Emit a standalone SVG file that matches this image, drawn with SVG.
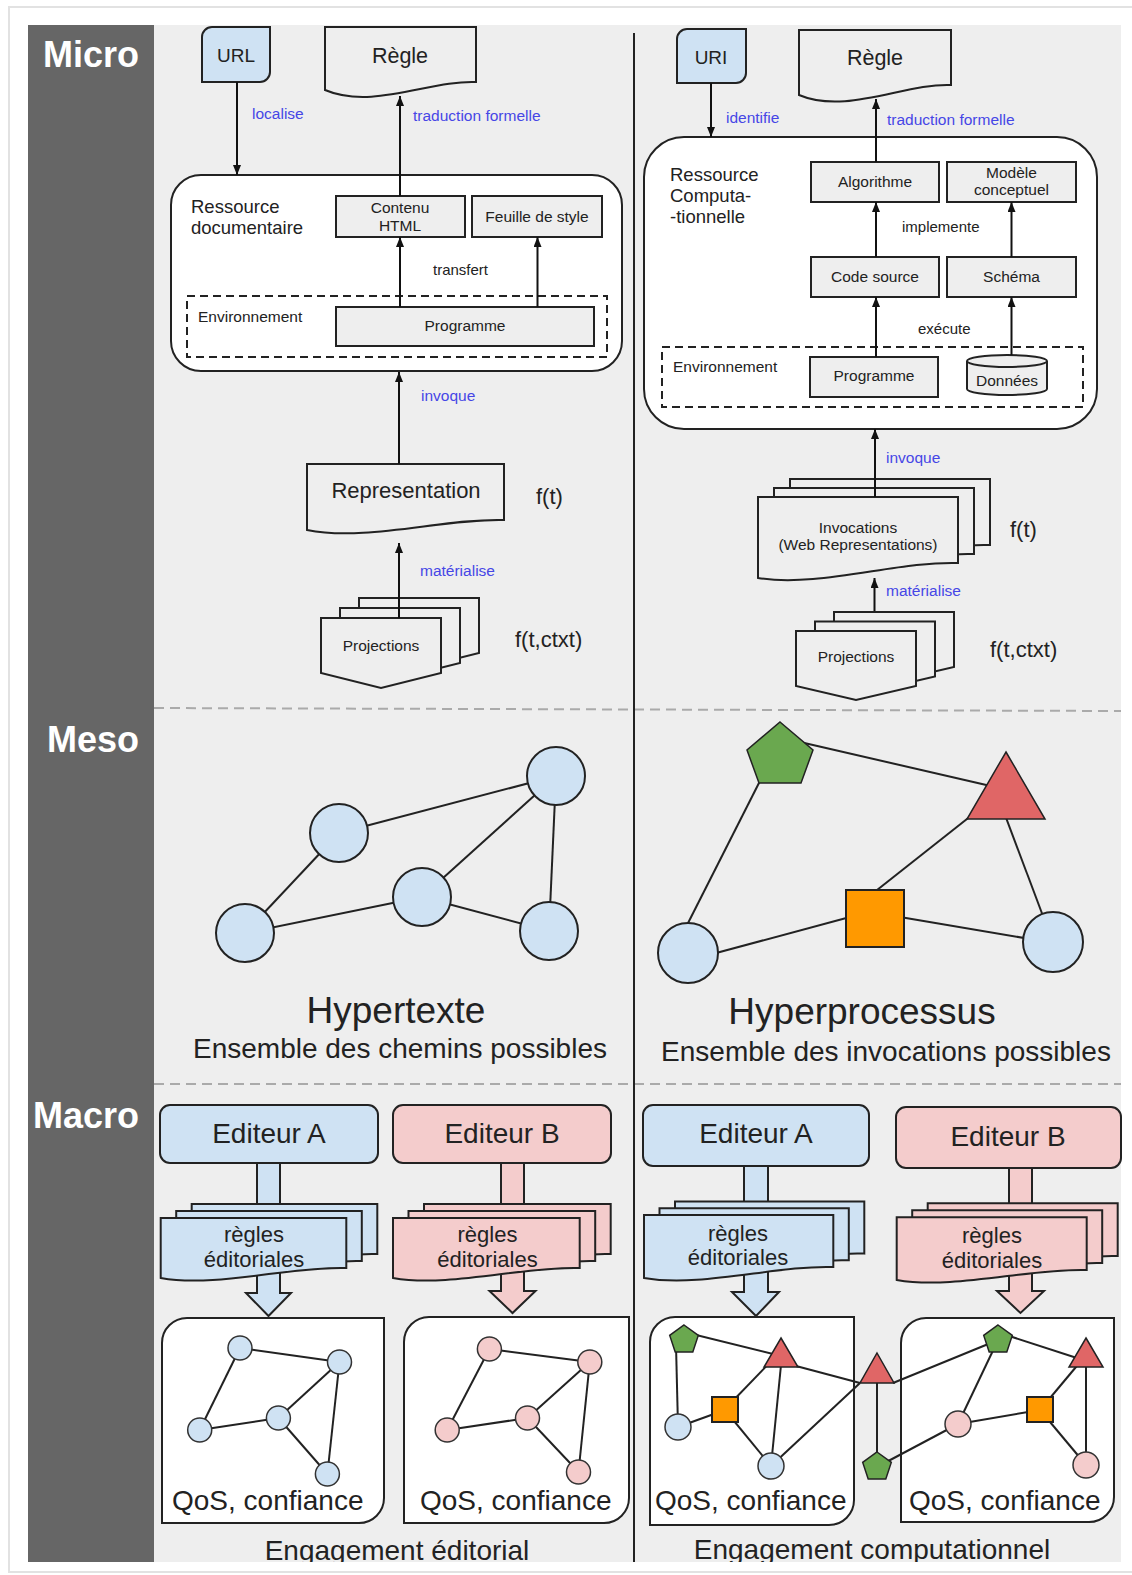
<svg xmlns="http://www.w3.org/2000/svg" width="1132" height="1575" viewBox="0 0 1132 1575">
<defs>
<style>
text{font-family:'Liberation Sans',Arial,Helvetica,sans-serif;fill:#222}
.bar{fill:#fff;font-weight:bold;font-size:36px}
.lbl{fill:#4646e6;font-size:15.5px}
.s15{font-size:15.5px}
.s18{font-size:18.5px}
.s22{font-size:22px}
.s28{font-size:28px}
.s36{font-size:37px}
.mid{text-anchor:middle}
.box{fill:#eee;stroke:#222;stroke-width:2}
.wbox{fill:#fff;stroke:#222;stroke-width:2}
.arr{stroke:#111;stroke-width:2;fill:none;marker-end:url(#ah)}
.dash{fill:none;stroke:#222;stroke-width:2;stroke-dasharray:8 5}
.sep{stroke:#aaa;stroke-width:2;stroke-dasharray:10 6}
.e{stroke:#222;stroke-width:2;fill:none}
.blue{fill:#cfe2f3;stroke:#222;stroke-width:2}
.pink{fill:#f4cccc;stroke:#222;stroke-width:2}
.sblue{fill:#cfe2f3;stroke:#333;stroke-width:1.5}
.spink{fill:#f4cccc;stroke:#333;stroke-width:1.5}
.green{fill:#6aa84f;stroke:#222;stroke-width:1.5}
.red{fill:#e06666;stroke:#222;stroke-width:1.5}
.orange{fill:#ff9900;stroke:#222;stroke-width:2}
</style>
<marker id="ah" viewBox="0 0 10 8" markerWidth="10" markerHeight="8" refX="10" refY="4" orient="auto" markerUnits="userSpaceOnUse"><path d="M0,0 L10,4 L0,8 Z" fill="#111"/></marker>
<clipPath id="panel"><rect x="0" y="0" width="1132" height="1562"/></clipPath>
</defs>

<g id="background">
<rect width="1132" height="1575" fill="#fff"/>
<rect x="9" y="7" width="1135" height="1565" fill="#fff" stroke="#e2e2e2" stroke-width="2"/>
<rect x="154" y="25" width="967" height="1537" fill="#eee"/>
<rect x="28" y="25" width="126" height="1537" fill="#666"/>
<text class="bar" x="43" y="67">Micro</text>
<text class="bar" x="47" y="752">Meso</text>
<text class="bar" x="33" y="1128">Macro</text>
<line class="sep" x1="154" y1="708" x2="1121" y2="711"/>
<line class="sep" x1="154" y1="1084" x2="1121" y2="1084"/>
<line x1="634" y1="33" x2="634" y2="1562" stroke="#222" stroke-width="2"/>
</g>

<!-- ===== MICRO LEFT ===== -->
<g id="url-l"><path class="blue" d="M202,37 A10,10 0 0 1 212,27 H270 V72 A10,10 0 0 1 260,82 H202 Z"/><text class="mid" x="236" y="62" font-size="19">URL</text></g>
<g id="regle-l"><path class="box" d="M325,27 H476 V82 C431,80 372,110 325,90 Z"/><text class="mid" x="400" y="63" font-size="21.5">Règle</text></g>
<g id="ressource-doc"><rect class="wbox" x="171" y="175" width="451" height="196" rx="30"/><text class="s18" x="191" y="213">Ressource</text><text class="s18" x="191" y="234">documentaire</text></g>
<g id="contenu-html"><rect class="box" x="336" y="196" width="129" height="41"/><text class="mid s15" x="400" y="213">Contenu</text><text class="mid s15" x="400" y="231">HTML</text></g>
<g id="feuille-style"><rect class="box" x="472" y="196" width="130" height="41"/><text class="mid s15" x="537" y="222">Feuille de style</text></g>
<g id="env-l"><rect class="dash" x="187" y="296" width="420" height="61"/><text class="s15" x="198" y="322">Environnement</text></g>
<g id="programme-l"><rect class="box" x="336" y="307" width="258" height="39"/><text class="mid s15" x="465" y="331">Programme</text></g>
<g id="representation"><path class="box" d="M307,464 H504 V520 C445,518 366,542 307,530 Z"/><text class="mid s22" x="406" y="498">Representation</text><text class="s22" x="536" y="504">f(t)</text></g>
<g id="projections-l">
<path class="box" d="M359,598 H479 V653 L419,668 L359,653 Z"/>
<path class="box" d="M340,608 H460 V663 L400,678 L340,663 Z"/>
<path class="box" d="M321,618 H441 V673 L381,688 L321,673 Z"/>
<text class="mid s15" x="381" y="651">Projections</text><text class="s22" x="515" y="647">f(t,ctxt)</text></g>

<g id="connectors-micro-l">
<line class="arr" x1="237" y1="82" x2="237" y2="175"/><text class="lbl" x="252" y="119">localise</text>
<line class="arr" x1="400" y1="196" x2="400" y2="96"/><text class="lbl" x="413" y="121">traduction formelle</text>
<line class="arr" x1="400" y1="307" x2="400" y2="237"/>
<line class="arr" x1="537.5" y1="307" x2="537.5" y2="237"/><text x="433" y="275" font-size="15">transfert</text>
<line class="arr" x1="399" y1="464" x2="399" y2="372"/><text class="lbl" x="421" y="401">invoque</text>
<line class="arr" x1="399" y1="618" x2="399" y2="543"/><text class="lbl" x="420" y="576">matérialise</text>
</g>

<!-- ===== MICRO RIGHT ===== -->
<g id="uri-r"><path class="blue" d="M677,39 A10,10 0 0 1 687,29 H746 V73 A10,10 0 0 1 736,83 H677 Z"/><text class="mid" x="711" y="64" font-size="19">URI</text></g>
<g id="regle-r"><path class="box" d="M799,30 H951 V85 C905,83 846,115 799,95 Z"/><text class="mid" x="875" y="65" font-size="21.5">Règle</text></g>
<g id="ressource-comp"><rect class="wbox" x="644" y="137" width="453" height="292" rx="40"/><text class="s18" x="670" y="181">Ressource</text><text class="s18" x="670" y="202">Computa-</text><text class="s18" x="670" y="223">-tionnelle</text></g>
<g id="algorithme"><rect class="box" x="811" y="162" width="128" height="40"/><text class="mid s15" x="875" y="187">Algorithme</text></g>
<g id="modele"><rect class="box" x="947" y="162" width="129" height="40"/><text class="mid s15" x="1011.5" y="178">Modèle</text><text class="mid s15" x="1011.5" y="195">conceptuel</text></g>
<g id="code-source"><rect class="box" x="811" y="257" width="128" height="40"/><text class="mid s15" x="875" y="282">Code source</text></g>
<g id="schema"><rect class="box" x="947" y="257" width="129" height="40"/><text class="mid s15" x="1011.5" y="282">Schéma</text></g>
<g id="env-r"><rect class="dash" x="662" y="347" width="421" height="60"/><text class="s15" x="673" y="372">Environnement</text></g>
<g id="programme-r"><rect class="box" x="810" y="357" width="128" height="40"/><text class="mid s15" x="874" y="381">Programme</text></g>
<g id="donnees"><path class="box" d="M967,361 V389 A40,6 0 0 0 1047,389 V361 A40,6 0 0 0 967,361 Z"/><path class="e" d="M967,361 A40,6 0 0 0 1047,361"/><text class="mid s15" x="1007" y="386">Données</text></g>

<g id="connectors-micro-r-under">
<line class="arr" x1="874.5" y1="612" x2="874.5" y2="578"/>
</g>
<g id="invocations">
<path class="box" d="M790,479 H990 V545 C930,543 850,570 790,560 Z"/>
<path class="box" d="M774,488 H974 V554 C914,552 834,579 774,569 Z"/>
<path class="box" d="M758,497 H958 V563 C898,561 818,588 758,578 Z"/>
<text class="mid s15" x="858" y="533">Invocations</text><text class="mid s15" x="858" y="550">(Web Representations)</text><text class="s22" x="1010" y="537">f(t)</text></g>
<g id="projections-r">
<path class="box" d="M834,612 H954 V667 L894,681 L834,667 Z"/>
<path class="box" d="M815,621.5 H935 V676.5 L875,690.5 L815,676.5 Z"/>
<path class="box" d="M796,631 H916 V686 L856,700 L796,686 Z"/>
<text class="mid s15" x="856" y="662">Projections</text><text class="s22" x="990" y="657">f(t,ctxt)</text></g>

<g id="connectors-micro-r">
<line class="arr" x1="711" y1="83" x2="711" y2="137"/><text class="lbl" x="726" y="123">identifie</text>
<line class="arr" x1="876" y1="162" x2="876" y2="99"/><text class="lbl" x="887" y="125">traduction formelle</text>
<line class="arr" x1="876" y1="257" x2="876" y2="202"/>
<line class="arr" x1="1011.5" y1="257" x2="1011.5" y2="202"/><text x="902" y="232" font-size="15">implemente</text>
<line class="arr" x1="876" y1="357" x2="876" y2="297"/>
<line class="arr" x1="1011.5" y1="355" x2="1011.5" y2="297"/><text x="918" y="334" font-size="15">exécute</text>
<line class="arr" x1="875" y1="497" x2="875" y2="429"/><text class="lbl" x="886" y="463">invoque</text>
<text class="lbl" x="886" y="596">matérialise</text>
</g>

<!-- ===== MESO LEFT ===== -->
<g id="edges-meso-l">
<line class="e" x1="339" y1="833" x2="556" y2="776"/>
<line class="e" x1="339" y1="833" x2="245" y2="933"/>
<line class="e" x1="245" y1="933" x2="422" y2="897"/>
<line class="e" x1="422" y1="897" x2="556" y2="776"/>
<line class="e" x1="422" y1="897" x2="549" y2="931"/>
<line class="e" x1="556" y1="776" x2="549" y2="931"/>
</g>
<g id="meso-l-n1"><circle class="blue" cx="556" cy="776" r="29"/></g>
<g id="meso-l-n2"><circle class="blue" cx="339" cy="833" r="29"/></g>
<g id="meso-l-n3"><circle class="blue" cx="422" cy="897" r="29"/></g>
<g id="meso-l-n4"><circle class="blue" cx="245" cy="933" r="29"/></g>
<g id="meso-l-n5"><circle class="blue" cx="549" cy="931" r="29"/></g>
<g id="hypertexte-label"><text class="mid s36" x="396" y="1023">Hypertexte</text><text class="mid" x="400" y="1058" font-size="28">Ensemble des chemins possibles</text></g>

<!-- ===== MESO RIGHT ===== -->
<g id="edges-meso-r">
<line class="e" x1="800" y1="742" x2="995" y2="787"/>
<line class="e" x1="762" y1="777" x2="684" y2="931"/>
<line class="e" x1="972" y1="815" x2="872" y2="894"/>
<line class="e" x1="1005" y1="815" x2="1046" y2="924"/>
<line class="e" x1="705" y1="956" x2="850" y2="917"/>
<line class="e" x1="900" y1="917" x2="1030" y2="939"/>
</g>
<g id="meso-r-pentagon"><polygon class="green" points="780,722 813,750 801,783 759,783 747,750"/></g>
<g id="meso-r-triangle"><polygon class="red" points="1006,752 1045,819 967,819"/></g>
<g id="meso-r-square"><rect class="orange" x="846" y="890" width="58" height="57"/></g>
<g id="meso-r-c1"><circle class="blue" cx="688" cy="953" r="30"/></g>
<g id="meso-r-c2"><circle class="blue" cx="1053" cy="942" r="30"/></g>
<g id="hyperprocessus-label"><text class="mid s36" x="862" y="1024">Hyperprocessus</text><text class="mid" x="886" y="1061" font-size="28">Ensemble des invocations possibles</text></g>

<!-- ===== MACRO ===== -->
<g id="connectors-macro-arrows">
<polygon class="blue" points="257,1163 280,1163 280,1293 291,1293 268.5,1316 246,1293 257,1293"/>
<polygon class="pink" points="501,1163 524,1163 524,1291 535.5,1291 512.5,1313 489.5,1291 501,1291"/>
<polygon class="blue" points="744,1166 768,1166 768,1292 779,1292 756,1316 732,1292 744,1292"/>
<polygon class="pink" points="1009,1168 1032,1168 1032,1291 1044,1291 1020.5,1313 997,1291 1009,1291"/>
</g>
<g id="editeur-a-l"><rect class="blue" x="160" y="1105" width="218" height="58" rx="10"/><text class="mid s28" x="269" y="1143">Editeur A</text></g>
<g id="editeur-b-l"><rect class="pink" x="393" y="1105" width="218" height="58" rx="10"/><text class="mid s28" x="502" y="1143">Editeur B</text></g>
<g id="editeur-a-r"><rect class="blue" x="643" y="1105" width="226" height="61" rx="10"/><text class="mid s28" x="756" y="1143">Editeur A</text></g>
<g id="editeur-b-r"><rect class="pink" x="896" y="1107" width="225" height="61" rx="10"/><text class="mid s28" x="1008" y="1146">Editeur B</text></g>

<g id="regles-a-l">
<path class="blue" d="M191.7,1204 H377.3 V1254 C321.6,1252 247.4,1274 191.7,1264 Z"/>
<path class="blue" d="M176.2,1211 H361.8 V1261 C306,1259 232,1281 176.2,1271 Z"/>
<path class="blue" d="M160.7,1218 H346.3 V1268 C290.6,1266 216.4,1288 160.7,1278 Z"/>
<text class="mid s22" x="254" y="1242">règles</text><text class="mid s22" x="254" y="1267">éditoriales</text></g>
<g id="regles-b-l">
<path class="pink" d="M424,1204 H610.7 V1254 C554.7,1252 480,1274 424,1264 Z"/>
<path class="pink" d="M408.5,1211 H595.2 V1261 C539.2,1259 464.5,1281 408.5,1271 Z"/>
<path class="pink" d="M393,1218 H579.7 V1268 C523.7,1266 449,1288 393,1278 Z"/>
<text class="mid s22" x="487.5" y="1242">règles</text><text class="mid s22" x="487.5" y="1267">éditoriales</text></g>
<g id="regles-a-r">
<path class="blue" d="M675,1201.6 H864.3 V1253.6 C807.5,1251.6 731.8,1274.6 675,1264.6 Z"/>
<path class="blue" d="M659.5,1208.3 H848.8 V1260.3 C792,1258.3 716.3,1281.3 659.5,1271.3 Z"/>
<path class="blue" d="M644,1215 H833.3 V1267 C776.5,1265 700.8,1288 644,1278 Z"/>
<text class="mid s22" x="738" y="1241">règles</text><text class="mid s22" x="738" y="1265">éditoriales</text></g>
<g id="regles-b-r">
<path class="pink" d="M927.7,1203.3 H1117.7 V1256 C1060.7,1254 984.7,1276 927.7,1266 Z"/>
<path class="pink" d="M912.2,1210.3 H1102.2 V1263 C1045.2,1261 969.2,1283 912.2,1273 Z"/>
<path class="pink" d="M896.7,1217.3 H1086.7 V1270 C1029.7,1268 953.7,1290 896.7,1280 Z"/>
<text class="mid s22" x="992" y="1243">règles</text><text class="mid s22" x="992" y="1268">éditoriales</text></g>

<g id="qos-a-l"><path class="wbox" d="M162,1343 A25,25 0 0 1 187,1318 H384 V1498 A25,25 0 0 1 359,1523 H162 Z"/></g>
<g id="qos-b-l"><path class="wbox" d="M404,1342 A25,25 0 0 1 429,1317 H629 V1498 A25,25 0 0 1 604,1523 H404 Z"/></g>
<g id="qos-a-r"><path class="wbox" d="M650,1342 A25,25 0 0 1 675,1317 H854 V1500 A25,25 0 0 1 829,1525 H650 Z"/></g>
<g id="qos-b-r"><path class="wbox" d="M901,1343 A25,25 0 0 1 926,1318 H1114 V1497 A25,25 0 0 1 1089,1522 H901 Z"/></g>

<g id="edges-macro-l">
<line class="e" x1="240" y1="1348" x2="339.5" y2="1362"/>
<line class="e" x1="240" y1="1348" x2="199.7" y2="1430"/>
<line class="e" x1="199.7" y1="1430" x2="278.4" y2="1418"/>
<line class="e" x1="278.4" y1="1418" x2="339.5" y2="1362"/>
<line class="e" x1="278.4" y1="1418" x2="327.4" y2="1474"/>
<line class="e" x1="339.5" y1="1362" x2="327.4" y2="1474"/>
<line class="e" x1="489.4" y1="1349" x2="589.8" y2="1362"/>
<line class="e" x1="489.4" y1="1349" x2="447.2" y2="1430"/>
<line class="e" x1="447.2" y1="1430" x2="527.5" y2="1418"/>
<line class="e" x1="527.5" y1="1418" x2="589.8" y2="1362"/>
<line class="e" x1="527.5" y1="1418" x2="578.5" y2="1472"/>
<line class="e" x1="589.8" y1="1362" x2="578.5" y2="1472"/>
</g>
<g id="macro-a-l-nodes">
<circle class="sblue" cx="240" cy="1348" r="12"/><circle class="sblue" cx="339.5" cy="1362" r="12"/><circle class="sblue" cx="278.4" cy="1418" r="12"/><circle class="sblue" cx="199.7" cy="1430" r="12"/><circle class="sblue" cx="327.4" cy="1474" r="12"/>
</g>
<g id="macro-b-l-nodes">
<circle class="spink" cx="489.4" cy="1349" r="12"/><circle class="spink" cx="589.8" cy="1362" r="12"/><circle class="spink" cx="527.5" cy="1418" r="12"/><circle class="spink" cx="447.2" cy="1430" r="12"/><circle class="spink" cx="578.5" cy="1472" r="12"/>
</g>

<g id="edges-macro-r">
<line class="e" x1="684" y1="1332" x2="781" y2="1356"/>
<line class="e" x1="676" y1="1345" x2="678" y2="1427"/>
<line class="e" x1="678" y1="1427" x2="725" y2="1410"/>
<line class="e" x1="781" y1="1351" x2="725" y2="1409"/>
<line class="e" x1="781.5" y1="1360" x2="771" y2="1466"/>
<line class="e" x1="725" y1="1410" x2="771" y2="1466"/>
<line class="e" x1="781" y1="1362" x2="860" y2="1383"/>
<line class="e" x1="771" y1="1466" x2="860" y2="1383"/>
<line class="e" x1="877" y1="1383" x2="877" y2="1467"/>
<line class="e" x1="893" y1="1383" x2="998" y2="1340"/>
<line class="e" x1="877" y1="1467" x2="958" y2="1424"/>
<line class="e" x1="1000" y1="1333" x2="1080" y2="1359"/>
<line class="e" x1="998" y1="1340" x2="958" y2="1424"/>
<line class="e" x1="958" y1="1424" x2="1040" y2="1410"/>
<line class="e" x1="1086" y1="1355" x2="1040" y2="1410"/>
<line class="e" x1="1086" y1="1360" x2="1086" y2="1465"/>
<line class="e" x1="1040" y1="1410" x2="1086" y2="1465"/>
</g>
<g id="macro-a-r-nodes">
<polygon class="green" points="684,1325 698.3,1335.4 692.8,1352.1 675.2,1352.1 669.7,1335.4"/>
<polygon class="red" points="781,1338 798,1367 764,1367"/>
<rect class="orange" x="712" y="1397" width="26" height="25" stroke-width="1.5"/>
<circle class="sblue" cx="678" cy="1427" r="13"/>
<circle class="sblue" cx="771" cy="1466" r="13"/>
</g>
<g id="macro-mid-nodes">
<polygon class="red" points="877,1353 894,1383 860,1383"/>
<polygon class="green" points="877,1452 891.3,1462.4 885.8,1479.1 868.2,1479.1 862.7,1462.4"/>
</g>
<g id="macro-b-r-nodes">
<polygon class="green" points="998,1325 1012.3,1335.4 1006.8,1352.1 989.2,1352.1 983.7,1335.4"/>
<polygon class="red" points="1086,1338 1103,1367 1069,1367"/>
<rect class="orange" x="1027" y="1397" width="26" height="25" stroke-width="1.5"/>
<circle class="spink" cx="958" cy="1424" r="13"/>
<circle class="spink" cx="1086" cy="1465" r="13"/>
</g>

<g id="qos-labels">
<text class="s28" x="172" y="1510">QoS, confiance</text>
<text class="s28" x="420" y="1510">QoS, confiance</text>
<text class="s28" x="655" y="1510">QoS, confiance</text>
<text class="s28" x="909" y="1510">QoS, confiance</text>
</g>
<g id="engagement-labels" clip-path="url(#panel)">
<text class="mid s28" x="397" y="1560">Engagement éditorial</text>
<text class="mid s28" x="872" y="1559">Engagement computationnel</text>
</g>
</svg>
